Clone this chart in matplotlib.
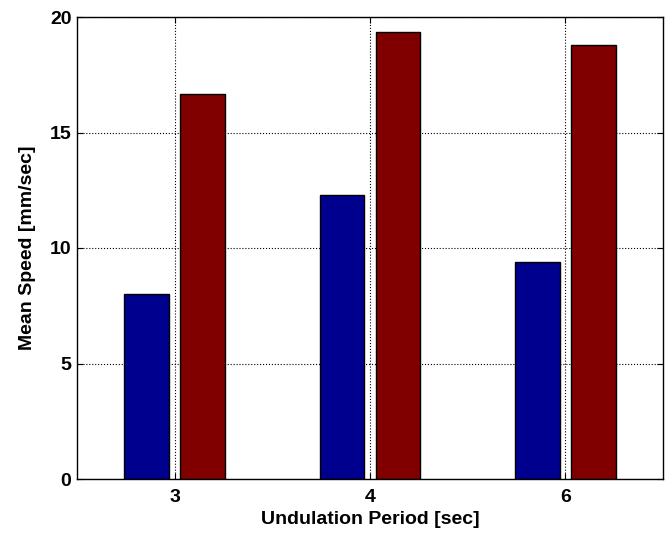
import numpy as np
import matplotlib.pyplot as plt

periods = ['3', '4', '6']
speed_a = [8.0, 12.3, 9.4]
speed_b = [16.67, 19.35, 18.78]

plt.rcParams['font.family'] = ['Liberation Sans', 'DejaVu Sans']
plt.rcParams['font.weight'] = 'bold'

fig = plt.figure(figsize=(6.69, 5.33), dpi=100)
ax = fig.add_axes([77 / 669, 1 - 479 / 533, 586 / 669, 462 / 533])

x = np.arange(1, len(periods) + 1)
gw = 2 / 3.5
w = gw / 2 * 0.8
ax.bar(x - gw / 4, speed_a, w, color='#00008f', edgecolor='black', linewidth=1, zorder=3)
ax.bar(x + gw / 4, speed_b, w, color='#800000', edgecolor='black', linewidth=1, zorder=3)

ax.set_xlim(0.5, 3.5)
ax.set_ylim(0, 20)
ax.set_xticks(x)
ax.set_xticklabels(periods)
ax.set_yticks([0, 5, 10, 15, 20])
ax.grid(True, linestyle=':', color='black', linewidth=0.8, zorder=0)
ax.tick_params(direction='in', top=True, right=True, labelsize=14, length=4)
ax.tick_params(axis='x', pad=7)
ax.tick_params(axis='y', pad=4)
for s in ax.spines.values():
    s.set_linewidth(1)
    s.set_zorder(4)

ax.set_xlabel('Undulation Period [sec]', fontsize=14, fontweight='bold', labelpad=4)
ax.set_ylabel('Mean Speed [mm/sec]', fontsize=14, fontweight='bold', labelpad=10)

fig.savefig('out.png', dpi=100)
